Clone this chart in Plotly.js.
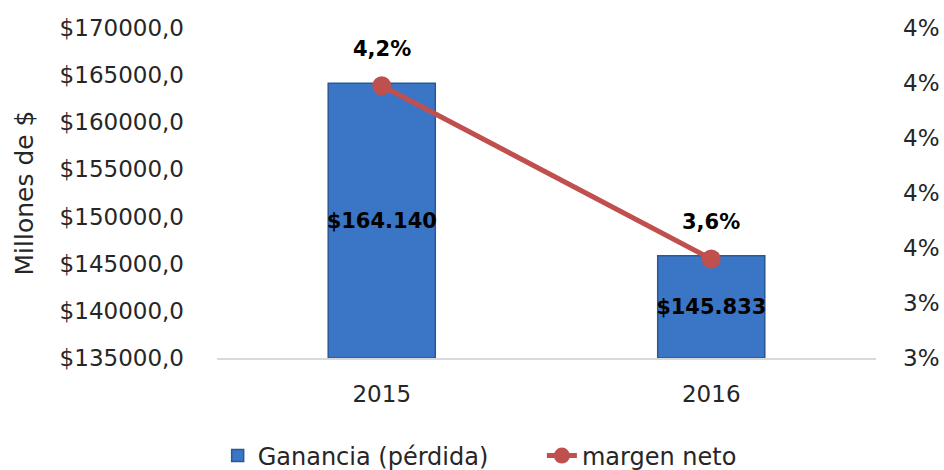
<!DOCTYPE html>
<html>
<head>
<meta charset="utf-8">
<script src="https://cdn.plot.ly/plotly-3.0.1.min.js"></script>
<style>html,body{margin:0;padding:0;background:#fff}#chart{width:944px;height:470px}</style>
</head>
<body>
<div id="chart"></div>
<script>
const years = ['2015', '2016'];
const ganancia = [164140, 145833];
const gananciaLabels = ['$164.140', '$145.833'];
const margen = [4.19, 3.56];
const margenLabels = ['4,2%', '3,6%'];
const leftTicks = [135000, 140000, 145000, 150000, 155000, 160000, 165000, 170000];
const leftTickText = ['$135000,0', '$140000,0', '$145000,0', '$150000,0', '$155000,0', '$160000,0', '$165000,0', '$170000,0'];
const rightTicks = [3.2, 3.4, 3.6, 3.8, 4.0, 4.2, 4.4];
const rightTickText = ['3%', '3%', '4%', '4%', '4%', '4%', '4%'];

const axisMin = leftTicks[0];
const font = '"DejaVu Sans", sans-serif';
const txt = '#262626';

const traces = [
  {
    type: 'bar', x: years,
    base: ganancia.map(() => axisMin),
    y: ganancia.map(v => v - axisMin),
    name: 'Ganancia (pérdida)', legend: 'legend',
    width: 0.325,
    marker: {color: '#3b76c6', line: {color: '#2a5895', width: 1.5}},
    text: gananciaLabels, textposition: 'inside', insidetextanchor: 'middle', textangle: 0,
    textfont: {family: font, size: 21, color: '#000', weight: 'bold'},
    constraintext: 'none'
  },
  {
    type: 'scatter', mode: 'lines+markers', x: years, y: margen, yaxis: 'y2',
    name: 'margen neto', legend: 'legend2',
    line: {color: '#c0504d', width: 5},
    marker: {color: '#c0504d', size: 19},
    cliponaxis: false
  }
];

// category axis: annotations use the category index of each year
const annotations = years.map((yr, i) => ({
  x: i, y: margen[i], xref: 'x', yref: 'y2', text: margenLabels[i],
  showarrow: false, yshift: 37,
  font: {family: font, size: 21, color: '#000', weight: 'bold'}
}));

const legendStyle = {orientation: 'h', xanchor: 'left', yanchor: 'middle', y: -0.297,
                     font: {family: font, size: 24, color: txt}, bgcolor: 'rgba(0,0,0,0)'};

const layout = {
  width: 944, height: 470,
  margin: {l: 217, r: 68, t: 28, b: 112, autoexpand: false},
  paper_bgcolor: '#fff', plot_bgcolor: '#fff',
  font: {family: font, color: txt, size: 22},
  showlegend: true,
  legend: Object.assign({}, legendStyle, {x: 0.001}),
  legend2: Object.assign({}, legendStyle, {x: 0.493}),
  annotations: annotations,
  xaxis: {type: 'category', range: [-0.5, years.length - 0.5], showgrid: false, showline: true,
          linecolor: '#d9d9d9', linewidth: 2,
          ticks: '', tickfont: {family: font, size: 23, color: txt}, ticklabelstandoff: 14},
  yaxis: {range: [135000, 170000], tickvals: leftTicks, ticktext: leftTickText,
          showgrid: false, zeroline: false, showline: false, ticks: '',
          tickfont: {family: font, size: 23, color: txt}, ticklabelstandoff: 32,
          title: {text: 'Millones de $', font: {family: font, size: 25, color: txt}, standoff: 18}},
  yaxis2: {overlaying: 'y', side: 'right', range: [3.2, 4.4], tickvals: rightTicks, ticktext: rightTickText,
           showgrid: false, zeroline: false, showline: false, ticks: '',
           tickfont: {family: font, size: 23, color: txt}, ticklabelstandoff: 26}
};

Plotly.newPlot('chart', traces, layout, {displayModeBar: false, staticPlot: true});
</script>
</body>
</html>
